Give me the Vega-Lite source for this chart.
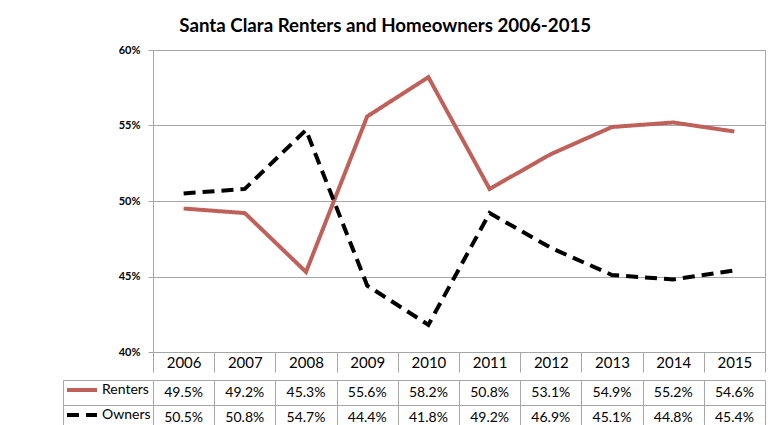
{
  "$schema": "https://vega.github.io/schema/vega-lite/v6.json",
  "padding": {"left": 62, "top": 16, "right": 3, "bottom": 2},
  "title": {
    "text": "Santa Clara Renters and Homeowners 2006-2015",
    "font": "Lato",
    "fontSize": 18.7,
    "fontWeight": "bold",
    "color": "black",
    "anchor": "middle",
    "dx": -29,
    "offset": 8
  },
  "datasets": {
    "tenure": [
      {"year": 2006, "series": "Renters", "value": 0.495},
      {"year": 2007, "series": "Renters", "value": 0.492},
      {"year": 2008, "series": "Renters", "value": 0.453},
      {"year": 2009, "series": "Renters", "value": 0.556},
      {"year": 2010, "series": "Renters", "value": 0.582},
      {"year": 2011, "series": "Renters", "value": 0.508},
      {"year": 2012, "series": "Renters", "value": 0.531},
      {"year": 2013, "series": "Renters", "value": 0.549},
      {"year": 2014, "series": "Renters", "value": 0.552},
      {"year": 2015, "series": "Renters", "value": 0.546},
      {"year": 2006, "series": "Owners", "value": 0.505},
      {"year": 2007, "series": "Owners", "value": 0.508},
      {"year": 2008, "series": "Owners", "value": 0.547},
      {"year": 2009, "series": "Owners", "value": 0.444},
      {"year": 2010, "series": "Owners", "value": 0.418},
      {"year": 2011, "series": "Owners", "value": 0.492},
      {"year": 2012, "series": "Owners", "value": 0.469},
      {"year": 2013, "series": "Owners", "value": 0.451},
      {"year": 2014, "series": "Owners", "value": 0.448},
      {"year": 2015, "series": "Owners", "value": 0.454}
    ]
  },
  "spacing": 0,
  "resolve": {"scale": {"color": "independent", "strokeDash": "independent"}},
  "config": {
    "view": {"stroke": null},
    "font": "Lato"
  },
  "vconcat": [
    {
      "width": 612,
      "height": 302,
      "view": {"stroke": "#aca89e"},
      "data": {"name": "tenure"},
      "mark": {"type": "line", "strokeWidth": 4, "strokeCap": "butt"},
      "encoding": {
        "x": {
          "field": "year",
          "type": "ordinal",
          "bandPosition": 0.5,
          "scale": {"type": "band", "paddingInner": 0, "paddingOuter": 0},
          "axis": {
            "title": null,
            "domain": false,
            "grid": false,
            "tickBand": "extent",
            "tickSize": 20,
            "tickColor": "#a6a6a6",
            "labelAngle": 0,
            "labelFont": "Lato",
            "labelFontSize": 15,
            "labelColor": "black",
            "labelPadding": -17
          }
        },
        "y": {
          "field": "value",
          "type": "quantitative",
          "scale": {"domain": [0.4, 0.6], "zero": false, "nice": false},
          "axis": {
            "title": null,
            "values": [0.4, 0.45, 0.5, 0.55, 0.6],
            "format": ".0%",
            "labelFont": "Lato",
            "labelFontSize": 11,
            "labelFontWeight": "bold",
            "labelColor": "black",
            "labelPadding": 8,
            "tickSize": 5,
            "tickColor": "#a6a6a6",
            "domainColor": "#a6a6a6",
            "gridColor": "#a6a6a6",
            "gridOpacity": 1
          }
        },
        "color": {
          "field": "series",
          "type": "nominal",
          "scale": {"domain": ["Renters", "Owners"], "range": ["#c0605a", "black"]},
          "legend": null
        },
        "strokeDash": {
          "field": "series",
          "type": "nominal",
          "scale": {"domain": ["Renters", "Owners"], "range": [[1, 0], [12, 7]]},
          "legend": null
        }
      }
    },
    {
      "width": 612,
      "height": 50,
      "data": {"name": "tenure"},
      "encoding": {
        "x": {
          "field": "year",
          "type": "ordinal",
          "scale": {"type": "band", "paddingInner": 0, "paddingOuter": 0},
          "axis": {
            "title": null,
            "labels": false,
            "ticks": false,
            "domain": false,
            "grid": true,
            "tickBand": "extent",
            "gridColor": "#a6a6a6",
            "gridOpacity": 1
          }
        }
      },
      "layer": [
        {
          "mark": {"type": "text", "font": "Lato", "fontSize": 14, "color": "black"},
          "encoding": {
            "y": {
              "field": "series",
              "type": "nominal",
              "sort": ["Renters", "Owners"],
              "scale": {"type": "band", "paddingInner": 0, "paddingOuter": 0},
              "axis": {
                "title": null,
                "labels": false,
                "domain": false,
                "grid": true,
                "tickBand": "extent",
                "tickSize": 90,
                "tickColor": "#a6a6a6",
                "gridColor": "#a6a6a6",
                "gridOpacity": 1
              }
            },
            "text": {"field": "value", "type": "quantitative", "format": ".1%"}
          }
        },
        {
          "mark": {"type": "line", "opacity": 0, "strokeWidth": 4, "strokeCap": "butt"},
          "encoding": {
            "y": {
              "field": "series",
              "type": "nominal",
              "sort": ["Renters", "Owners"],
              "axis": {
                "orient": "left",
                "offset": 90,
                "title": null,
                "labels": false,
                "ticks": false,
                "grid": false,
                "domain": true,
                "domainColor": "#a6a6a6"
              }
            },
            "color": {
              "field": "series",
              "type": "nominal",
              "scale": {"domain": ["Renters", "Owners"], "range": ["#c0605a", "black"]},
              "legend": {
                "orient": "none",
                "legendX": -88,
                "legendY": -7,
                "title": null,
                "padding": 0,
                "symbolType": "stroke",
                "symbolSize": 900,
                "symbolStrokeWidth": 4,
                "symbolOpacity": 1,
                "rowPadding": -5,
                "labelOffset": 3,
                "labelFont": "Lato",
                "labelFontSize": 14,
                "labelColor": "black"
              }
            },
            "strokeDash": {
              "field": "series",
              "type": "nominal",
              "scale": {"domain": ["Renters", "Owners"], "range": [[1, 0], [12, 7]]},
              "legend": {
                "orient": "none",
                "legendX": -88,
                "legendY": -7,
                "title": null,
                "padding": 0,
                "symbolType": "stroke",
                "symbolSize": 900,
                "symbolStrokeWidth": 4,
                "symbolOpacity": 1,
                "rowPadding": -5,
                "labelOffset": 3,
                "labelFont": "Lato",
                "labelFontSize": 14,
                "labelColor": "black"
              }
            }
          }
        }
      ],
      "resolve": {"axis": {"y": "independent"}}
    }
  ]
}
